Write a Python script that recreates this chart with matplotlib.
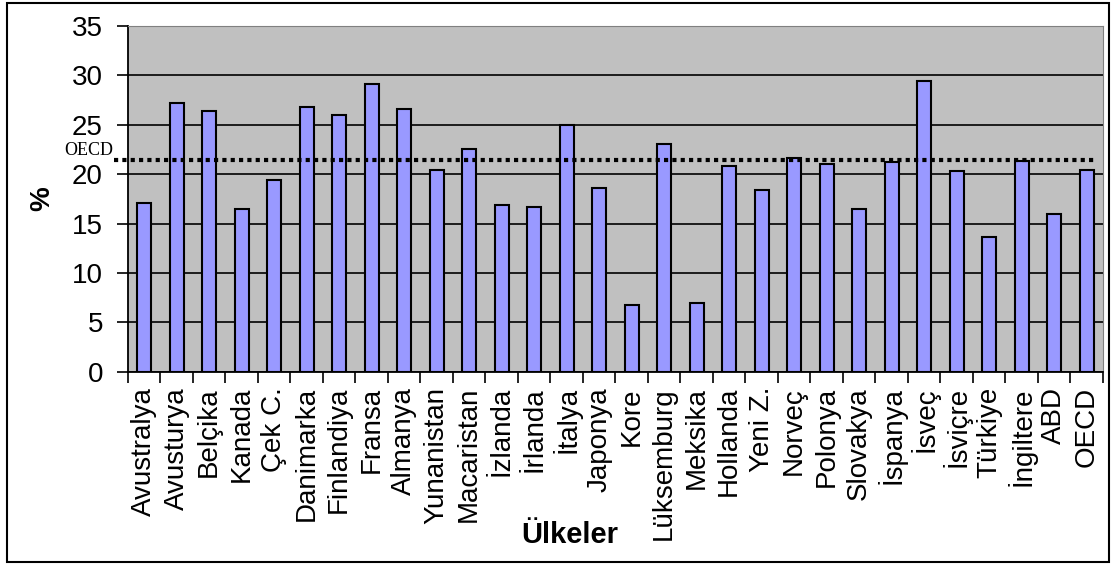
import matplotlib.pyplot as plt
from matplotlib.patches import Rectangle

countries = ["Avustralya", "Avusturya", "Belçika", "Kanada", "Çek C.", "Danimarka",
             "Finlandiya", "Fransa", "Almanya", "Yunanistan", "Macaristan", "İzlanda",
             "İrlanda", "İtalya", "Japonya", "Kore", "Lüksemburg", "Meksika", "Hollanda",
             "Yeni Z.", "Norveç", "Polonya", "Slovakya", "İspanya", "İsveç", "İsviçre",
             "Türkiye", "İngiltere", "ABD", "OECD"]
values = [17.1, 27.2, 26.4, 16.5, 19.4, 26.8, 26.0, 29.1, 26.6, 20.4, 22.5, 16.9,
          16.7, 25.0, 18.6, 6.8, 23.1, 7.0, 20.8, 18.4, 21.6, 21.0, 16.5, 21.2,
          29.4, 20.3, 13.6, 21.3, 16.0, 20.4]
oecd_line = 21.4
yticks = [0, 5, 10, 15, 20, 25, 30, 35]

plt.rcParams['font.family'] = ['Liberation Sans', 'DejaVu Sans']

fig = plt.figure(figsize=(11.13, 5.65), dpi=100)
ax = fig.add_axes([0.115, 0.342, 0.876, 0.612])
ax.set_facecolor('#C0C0C0')

x = list(range(len(countries)))
ax.bar(x, values, width=0.44, color='#9999FF', edgecolor='black', linewidth=1.5, zorder=3)

ax.set_ylim(0, 35)
ax.set_xlim(-0.5, len(countries) - 0.5)
ax.set_yticks(yticks)
ax.set_yticklabels([str(v) for v in yticks], fontsize=20)
ax.yaxis.grid(True, color='black', linewidth=1.2, zorder=1)
ax.set_axisbelow(True)

# ticks sit between the categories, labels under the bars
ax.set_xticks([i - 0.5 for i in x] + [len(x) - 0.5])
ax.set_xticklabels([])
ax.set_xticks(x, minor=True)
ax.set_xticklabels(countries, minor=True, rotation=90, fontsize=20, va='top', ha='center')
ax.tick_params(axis='x', which='minor', length=0, pad=11)
ax.tick_params(axis='x', which='major', length=8, width=1.2, direction='out')
ax.tick_params(axis='y', length=8, width=1.2, direction='out', pad=10)

for side in ['top', 'right']:
    ax.spines[side].set_color('#808080')
for side in ['left', 'bottom']:
    ax.spines[side].set_linewidth(1.3)

# OECD average line
ax.axhline(oecd_line, xmin=-0.014, xmax=0.993, color='black', linestyle=(0, (1, 1)),
           linewidth=3, clip_on=False, zorder=4)
ax.text(-0.015, oecd_line + 0.1, "OECD", transform=ax.get_yaxis_transform(),
        ha='right', va='bottom', fontsize=13, family='Liberation Serif')

ax.set_ylabel("%", fontsize=20, fontweight='bold', labelpad=12)
ax.set_xlabel("Ülkeler", fontsize=21, fontweight='bold', va='center')
ax.xaxis.set_label_coords(0.453, -0.472)

fig.add_artist(Rectangle((0.006, 0.005), 0.99, 0.99, transform=fig.transFigure,
                         fill=False, edgecolor='black', linewidth=1.5))

fig.savefig("out.png", dpi=100)
